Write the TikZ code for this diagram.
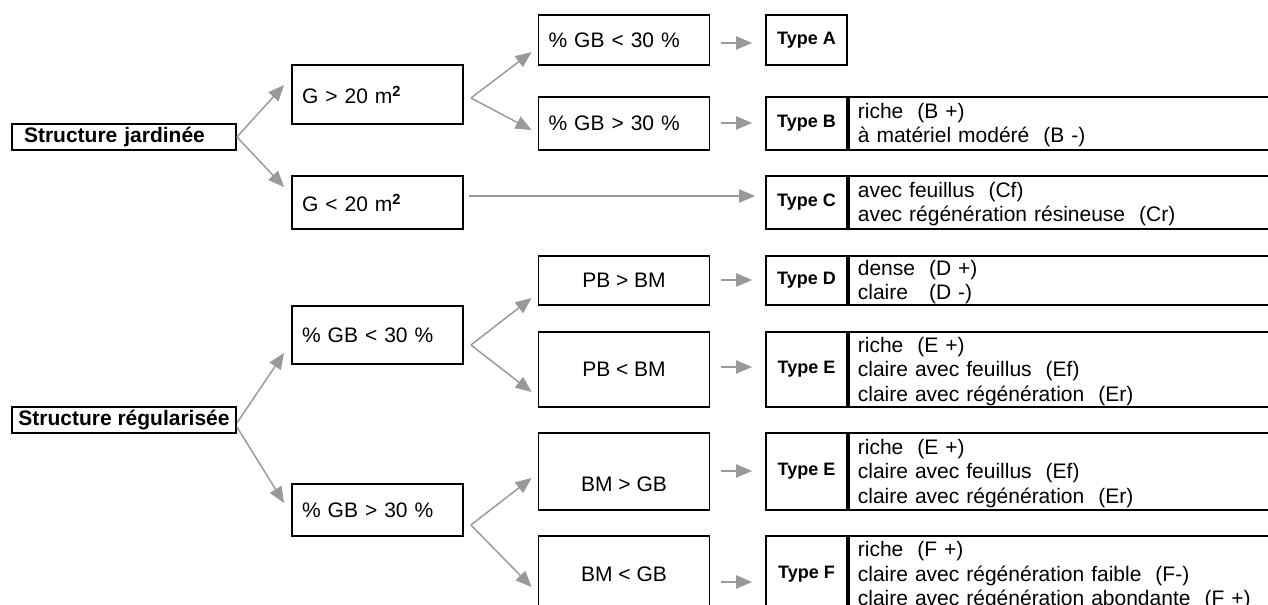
\documentclass[tikz,border=0pt]{standalone}
\usepackage{fontspec}
\setmainfont{Liberation Sans}
\usetikzlibrary{arrows.meta, positioning, calc}
\tikzset{
    root/.style={draw=black, line width=1.4pt, font=\fontsize{15.75}{18}\selectfont\bfseries,
                 inner sep=0pt, minimum width=224*0.75pt, minimum height=26*0.75pt},
    cond/.style={draw=black, line width=1.4pt, font=\fontsize{15.75}{18}\selectfont,
                 inner sep=0pt, minimum width=171*0.75pt, align=center},
    condl/.style={cond, text width=151*0.75pt, align=left},
    typ/.style={draw=black, line width=1.4pt, font=\fontsize{13.5}{16}\selectfont\bfseries,
                inner sep=0pt, minimum width=81*0.75pt},
    desc/.style={draw=black, line width=1.4pt, font=\fontsize{15.75}{18.4}\selectfont,
                 inner sep=0pt, minimum width=443*0.75pt, text width=425*0.75pt, align=left,
                 execute at begin node={\rule{0pt}{14pt}}},
    boxh/.style={minimum height=#1*0.75pt},
    arr/.style={-{Triangle[length=12pt, width=10pt]}, line width=1.1pt, black!40},
}
\begin{document}
\begin{tikzpicture}[x=0.75pt, y=-0.75pt]
    \useasboundingbox (0,0) rectangle (1268,605);
    \clip (0,0) rectangle (1268,605);
    % structures
    \node[root, text width=200*0.75pt, align=left] (sj) at (124,137) {Structure jardinée};
    \node[root] (sr) at (124,420) {Structure régularisée};
    % first split
    \node[condl, boxh=59] (g1) at (377.5,94.5) {G > 20 m\textsuperscript{\bfseries 2}};
    \node[condl, boxh=53] (g2) at (377.5,202.5) {G < 20 m\textsuperscript{\bfseries 2}};
    \node[condl, boxh=58] (r1) at (377.5,335) {\% GB < 30 \%};
    \node[condl, boxh=52] (r2) at (377.5,510) {\% GB > 30 \%};
    % second split
    \node[condl, boxh=50] (g1a) at (624,40) {\% GB < 30 \%};
    \node[condl, boxh=53] (g1b) at (624,123.5) {\% GB > 30 \%};
    \node[cond, boxh=49] (r1a) at (624,280.5) {PB > BM};
    \node[cond, boxh=75] (r1b) at (624,369.5) {PB < BM};
    \node[cond, boxh=77] (r2a) at (624,471.5) {\strut\\BM > GB};
    \node[cond, boxh=76] (r2b) at (624,574) {BM < GB};
    % types
    \node[typ, boxh=50] (ta) at (806.5,40) {Type A};
    \node[typ, boxh=53] (tb) at (806.5,123.5) {Type B};
    \node[typ, boxh=53] (tc) at (806.5,202.5) {Type C};
    \node[typ, boxh=49] (td) at (806.5,280.5) {Type D};
    \node[typ, boxh=75] (te1) at (806.5,369.5) {Type E};
    \node[typ, boxh=77] (te2) at (806.5,471.5) {Type E};
    \node[typ, boxh=76] (tf) at (806.5,574) {Type F};
    \node[desc, boxh=53, right=0pt of tb] (db) {riche\ \ (B +)\\à matériel modéré\ \ (B -)};
    \node[desc, boxh=53, right=0pt of tc] (dc) {avec feuillus\ \ (Cf)\\avec régénération résineuse\ \ (Cr)};
    \node[desc, boxh=49, right=0pt of td] (dd) {dense\ \ (D +)\\claire\ \ \ (D -)};
    \node[desc, boxh=75, right=0pt of te1] (de1) {riche\ \ (E +)\\claire avec feuillus\ \ (Ef)\\claire avec régénération\ \ (Er)};
    \node[desc, boxh=77, right=0pt of te2] (de2) {riche\ \ (E +)\\claire avec feuillus\ \ (Ef)\\claire avec régénération\ \ (Er)};
    \node[desc, boxh=76, right=0pt of tf] (df) {riche\ \ (F +)\\claire avec régénération faible\ \ (F-)\\claire avec régénération abondante\ \ (F +)};
    % connectors
    \draw[arr] (sj.east) -- ($(g1.west)+(-7,-9.5)$);
    \draw[arr] (sj.east) -- ($(g2.west)+(-7,-15.5)$);
    \draw[arr] ($(sr.east)+(0,3)$) -- ($(r1.west)+(-7,18)$);
    \draw[arr] ($(sr.east)+(0,7)$) -- ($(r2.west)+(-7,-7)$);
    \coordinate (f1) at ($(g1.east)+(7,3.5)$);
    \coordinate (f2) at ($(r1.east)+(7,10)$);
    \coordinate (f3) at ($(r2.east)+(7,15)$);
    \draw[arr] (f1) -- ($(g1a.west)+(-6,12)$);
    \draw[arr] (f1) -- ($(g1b.west)+(-6,6.5)$);
    \draw[arr] (f2) -- ($(r1a.west)+(-6,17.5)$);
    \draw[arr] (f2) -- ($(r1b.west)+(-6,22.5)$);
    \draw[arr] (f3) -- ($(r2a.west)+(-6,6.5)$);
    \draw[arr] (f3) -- ($(r2b.west)+(-6,13)$);
    \draw[arr] ($(g2.east)+(5,-6.5)$) -- ($(tc.west)+(-10,-6.5)$);
    \foreach \a/\b/\dy in {g1a/ta/3, g1b/tb/-0.5, r1a/td/-0.5, r1b/te1/-2.5, r2a/te2/-0.5, r2b/tf/8}
        \draw[arr] ($(\a.east)+(11,\dy)$) -- ($(\b.west)+(-13,\dy)$);
\end{tikzpicture}
\end{document}
